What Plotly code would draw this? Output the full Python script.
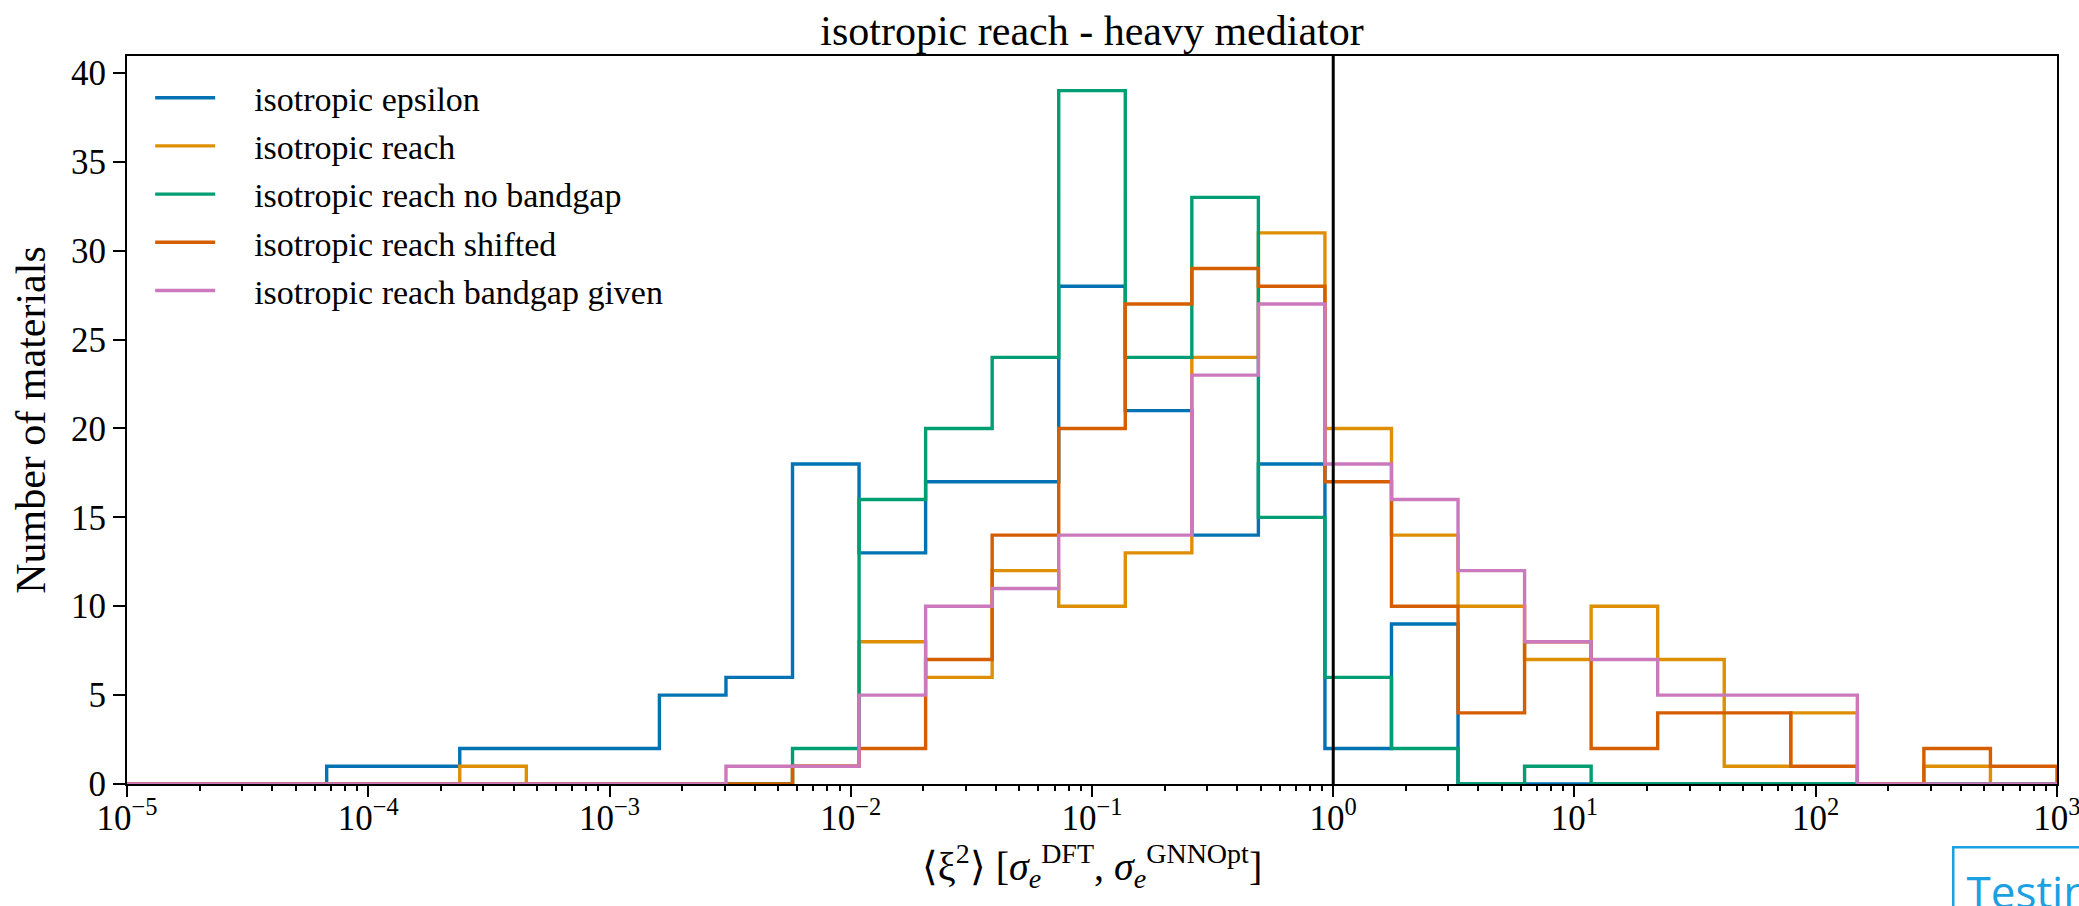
import numpy as np
import plotly.graph_objects as go

# Histogram binning: 29 log-spaced bins between 1e-5 and 1e3
bin_edges = np.logspace(-5, 3, 30)

# Counts per bin for each model variant
counts_epsilon = [0, 0, 0, 1, 1, 2, 2, 2, 5, 6, 18, 13, 17, 17, 28, 21, 14, 18, 2, 9, 0, 0, 0, 0, 0, 0, 0, 0, 0]
counts_reach = [0, 0, 0, 0, 0, 1, 0, 0, 0, 0, 1, 8, 6, 12, 10, 13, 24, 31, 20, 14, 10, 7, 10, 7, 1, 4, 0, 1, 0]
counts_no_bandgap = [0, 0, 0, 0, 0, 0, 0, 0, 0, 0, 2, 16, 20, 24, 39, 24, 33, 15, 6, 2, 0, 1, 0, 0, 0, 0, 0, 0, 0]
counts_shifted = [0, 0, 0, 0, 0, 0, 0, 0, 0, 0, 1, 2, 7, 14, 20, 27, 29, 28, 17, 10, 4, 8, 2, 4, 4, 1, 0, 2, 1]
counts_bandgap_given = [0, 0, 0, 0, 0, 0, 0, 0, 0, 1, 1, 5, 10, 11, 14, 14, 23, 27, 18, 16, 12, 8, 7, 5, 5, 5, 0, 0, 0]

series_names = [
    "isotropic epsilon",
    "isotropic reach",
    "isotropic reach no bandgap",
    "isotropic reach shifted",
    "isotropic reach bandgap given",
]
series_counts = [counts_epsilon, counts_reach, counts_no_bandgap, counts_shifted, counts_bandgap_given]
series_colors = ["#0173B2", "#DE8F05", "#029E73", "#D55E00", "#CC78BC"]

reference_x = 1.0
y_max = 40.95
x_log_range = [-5.0001, 3.0001]

major_ticks = [10.0 ** p for p in range(-5, 4)]
major_labels = ["10<sup>\u2212%d</sup>" % -p if p < 0 else "10<sup>%d</sup>" % p for p in range(-5, 4)]
minor_ticks = [m * 10.0 ** p for p in range(-5, 3) for m in range(2, 10)]

SERIF = "Liberation Serif, Times New Roman, serif"
LEGEND_PAD = "\u00a0" * 4

fig = go.Figure()

for name, counts, color in zip(series_names, series_counts, series_colors):
    edges = list(bin_edges)
    xs = [edges[0]] + edges + [edges[-1]]
    ys = [0] + list(counts) + [counts[-1], 0]
    fig.add_trace(go.Scatter(
        x=xs, y=ys, mode="lines", name=LEGEND_PAD + name, legendgroup=name,
        line=dict(color=color, width=3.4, shape="hv"),
        cliponaxis=True,
    ))

# Vertical reference line at <xi^2> = 1
fig.add_trace(go.Scatter(
    x=[reference_x, reference_x], y=[0, y_max], mode="lines",
    line=dict(color="black", width=3), showlegend=False, hoverinfo="skip",
))

# Secondary axis used only for the minor log ticks
fig.add_trace(go.Scatter(x=[1e-5, 1e3], y=[0, 0], xaxis="x2", mode="lines",
                         line=dict(width=0), showlegend=False, hoverinfo="skip"))

fig.update_layout(
    width=2079, height=906,
    margin=dict(l=127, r=22, t=56, b=122, autoexpand=False),
    paper_bgcolor="white", plot_bgcolor="white",
    font=dict(family=SERIF, color="black"),
    title=dict(text="isotropic reach - heavy mediator", x=0.5, xref="paper", xanchor="center",
               y=1 - 30 / 906, yref="container", yanchor="middle",
               font=dict(size=42, family=SERIF, color="black")),
    showlegend=True,
    legend=dict(x=0.012, y=0.982, xanchor="left", yanchor="top",
                bgcolor="rgba(0,0,0,0)", borderwidth=0,
                font=dict(size=34, family=SERIF, color="black"),
                tracegroupgap=1, itemwidth=60),
    xaxis=dict(
        type="log", range=x_log_range, automargin=False,
        tickmode="array", tickvals=major_ticks, ticktext=major_labels,
        ticks="outside", ticklen=11, tickwidth=2, tickcolor="black",
        tickfont=dict(size=35, family=SERIF, color="black"),
        ticklabelstandoff=-9, ticklabeloverflow="allow",
        showline=True, linecolor="black", linewidth=2, mirror=True,
        showgrid=False, zeroline=False,
        title=dict(text="\u27e8\u03be<sup>2</sup>\u27e9 [<i>\u03c3</i><sub><i>e</i></sub><sup>DFT</sup>, <i>\u03c3</i><sub><i>e</i></sub><sup>GNNOpt</sup>]",
                   font=dict(size=40, family=SERIF, color="black"), standoff=8),
    ),
    xaxis2=dict(
        type="log", range=x_log_range, overlaying="x", anchor="y", side="bottom",
        automargin=False,
        tickmode="array", tickvals=minor_ticks, ticktext=[""] * len(minor_ticks),
        ticks="outside", ticklen=6, tickwidth=1.5, tickcolor="black",
        showline=False, showgrid=False, zeroline=False, showticklabels=False,
    ),
    yaxis=dict(
        range=[0, y_max], tickmode="array", tickvals=list(range(0, 41, 5)), automargin=False,
        ticks="outside", ticklen=12, tickwidth=2, tickcolor="black",
        tickfont=dict(size=35, family=SERIF, color="black"),
        showline=True, linecolor="black", linewidth=2, mirror=True,
        showgrid=False, zeroline=False,
        title=dict(text="Number of materials", font=dict(size=42, family=SERIF, color="black"), standoff=12),
    ),
)

# Overlay label in the lower-right corner
fig.add_annotation(
    text="Testing", xref="paper", yref="paper", x=(1952 - 127) / 1930, y=-(846 - 784) / 728,
    xanchor="left", yanchor="top", showarrow=False, align="left",
    font=dict(size=44, family="Open Sans, Noto Sans, sans-serif", color="#1BA1E2"),
    bordercolor="#1BA1E2", borderwidth=2.5, borderpad=12, bgcolor="white",
)

fig.write_html("out.html")
